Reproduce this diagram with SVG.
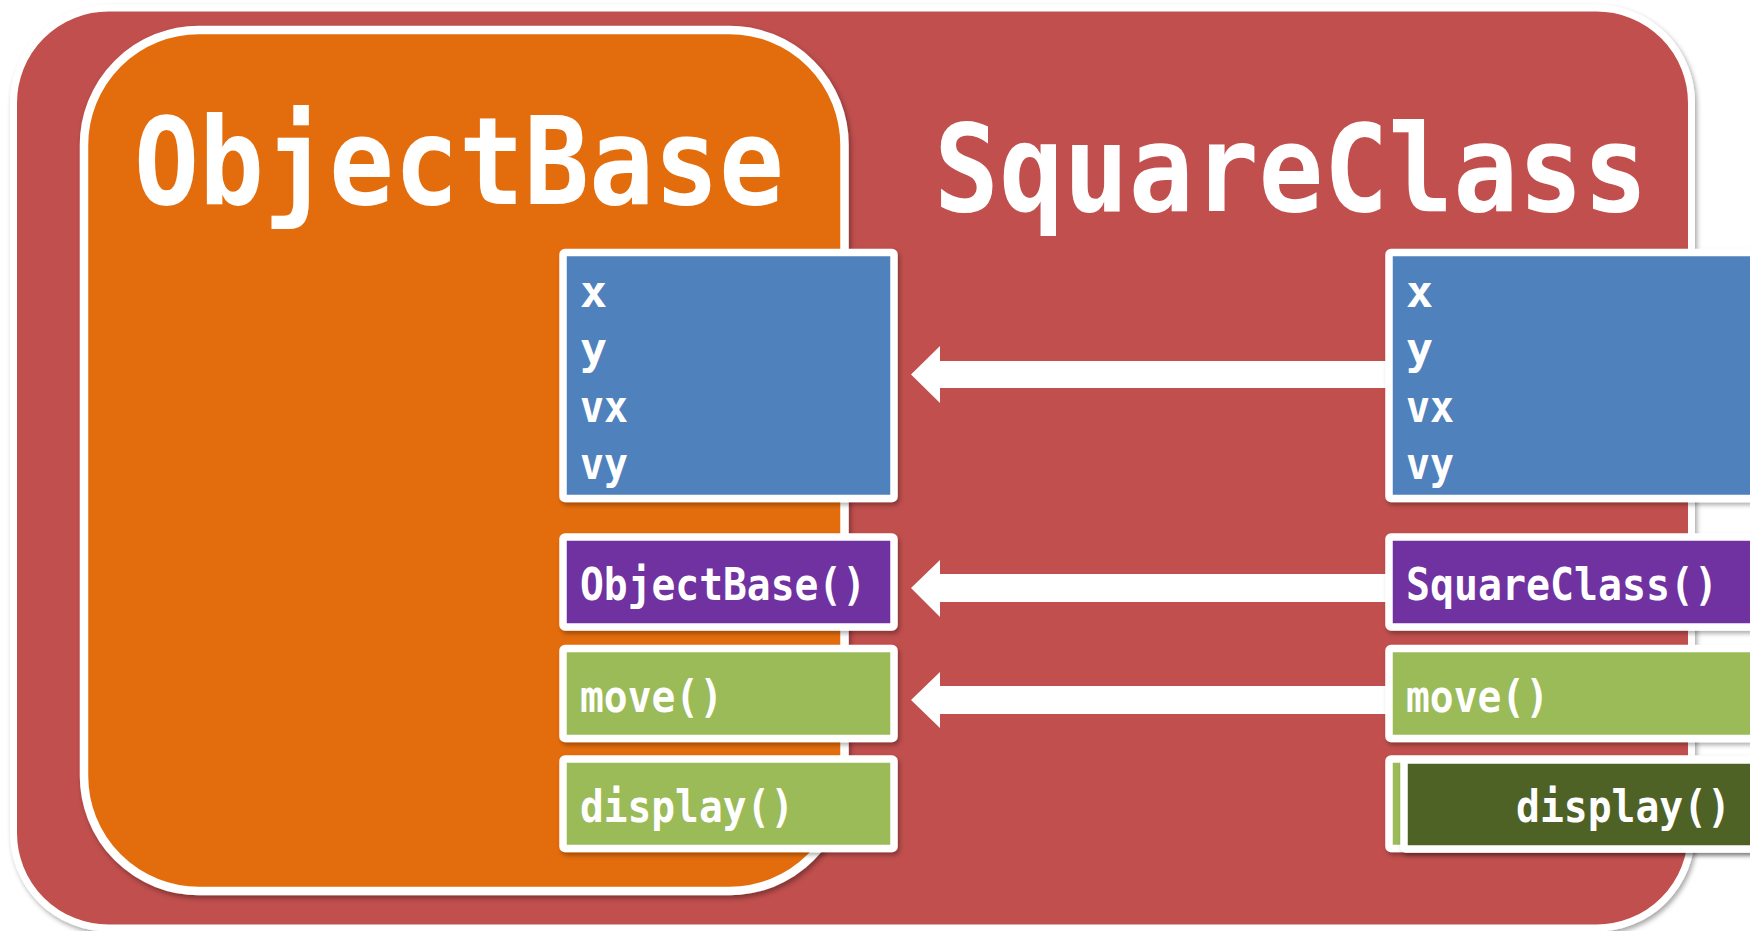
<svg xmlns="http://www.w3.org/2000/svg" width="1750" height="931" viewBox="0 0 1750 931">
<defs>
<filter id="sh" x="-5%" y="-5%" width="115%" height="115%">
<feDropShadow dx="2" dy="3" stdDeviation="2.5" flood-color="#000" flood-opacity="0.35"/>
</filter>
<filter id="shs" x="-10%" y="-10%" width="120%" height="130%">
<feDropShadow dx="2" dy="3" stdDeviation="2" flood-color="#000" flood-opacity="0.3"/>
</filter>
</defs>
<style>
.frame{stroke:#fff;stroke-width:7}
.box{stroke:#fff;stroke-width:7.5;filter:url(#shs)}
.blue{fill:#4F81BD}
.purple{fill:#7030A0}
.green{fill:#9BBB59}
.dgreen{fill:#4F6228}
.title{font-family:"DejaVu Sans Mono",monospace;font-weight:bold;font-size:121px;fill:#fff}
.lbl{font-family:"DejaVu Sans Mono",monospace;font-weight:bold;font-size:45px;fill:#fff}
.arrow{fill:#fff}
</style>
<rect width="1750" height="931" fill="#fff"/>
<g id="SquareClass">
<rect class="frame" x="13.5" y="8" width="1678" height="920" rx="95" fill="#C0504D" filter="url(#sh)"/>
<text class="title" x="934" y="211" textLength="714" lengthAdjust="spacingAndGlyphs">SquareClass</text>
</g>
<g id="ObjectBase">
<rect x="84" y="30" width="760.5" height="861" rx="115" fill="#E36C0A" stroke="#fff" stroke-width="8.5" filter="url(#sh)"/>
<text class="title" x="134" y="204" textLength="650" lengthAdjust="spacingAndGlyphs">ObjectBase</text>
</g>
<g id="connectors">
<polygon class="arrow" points="911,374.5 940,346 940,361 1392,361 1392,388 940,388 940,403"/>
<polygon class="arrow" points="911,588 940,560 940,574 1392,574 1392,602 940,602 940,617"/>
<polygon class="arrow" points="911,700 940,672 940,686 1392,686 1392,714 940,714 940,728"/>
</g>
<g id="ob-fields">
<rect class="box blue" x="563" y="252.5" width="331" height="246" rx="2"/>
<text class="lbl" x="580" y="307">x</text>
<text class="lbl" x="580" y="364">y</text>
<text class="lbl" x="580" y="422" textLength="48" lengthAdjust="spacingAndGlyphs">vx</text>
<text class="lbl" x="580" y="479" textLength="48" lengthAdjust="spacingAndGlyphs">vy</text>
</g>
<g id="ob-ctor">
<rect class="box purple" x="563" y="537" width="331" height="90" rx="2"/>
<text class="lbl" x="580" y="600" textLength="286" lengthAdjust="spacingAndGlyphs">ObjectBase()</text>
</g>
<g id="ob-move">
<rect class="box green" x="563" y="648.5" width="331" height="90" rx="2"/>
<text class="lbl" x="580" y="712" textLength="143" lengthAdjust="spacingAndGlyphs">move()</text>
</g>
<g id="ob-display">
<rect class="box green" x="563" y="759" width="331" height="89.5" rx="2"/>
<text class="lbl" x="580" y="822" textLength="214" lengthAdjust="spacingAndGlyphs">display()</text>
</g>
<g id="sc-fields">
<rect class="box blue" x="1389" y="252.5" width="400" height="246" rx="2"/>
<text class="lbl" x="1406" y="307">x</text>
<text class="lbl" x="1406" y="364">y</text>
<text class="lbl" x="1406" y="422" textLength="48" lengthAdjust="spacingAndGlyphs">vx</text>
<text class="lbl" x="1406" y="479" textLength="48" lengthAdjust="spacingAndGlyphs">vy</text>
</g>
<g id="sc-ctor">
<rect class="box purple" x="1389" y="537" width="400" height="90" rx="2"/>
<text class="lbl" x="1406" y="600" textLength="312" lengthAdjust="spacingAndGlyphs">SquareClass()</text>
</g>
<g id="sc-move">
<rect class="box green" x="1389" y="648.5" width="400" height="90" rx="2"/>
<text class="lbl" x="1406" y="712" textLength="143" lengthAdjust="spacingAndGlyphs">move()</text>
</g>
<g id="sc-display-base">
<rect class="box green" x="1389" y="759" width="400" height="89.5" rx="2"/>
</g>
<g id="sc-display">
<rect class="box dgreen" x="1404" y="760" width="400" height="89" rx="2"/>
<text class="lbl" x="1516" y="822" textLength="215" lengthAdjust="spacingAndGlyphs">display()</text>
</g>
</svg>
